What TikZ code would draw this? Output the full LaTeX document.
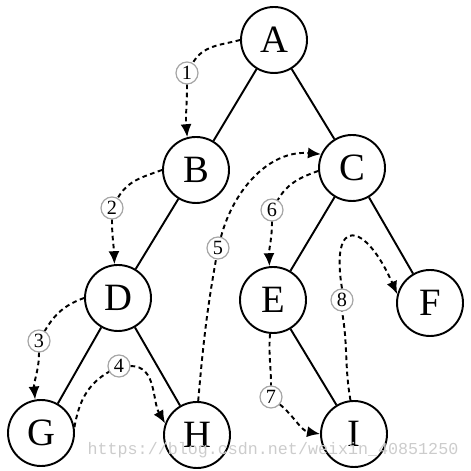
\documentclass[tikz,border=0pt]{standalone}
\usepackage{fontspec}
\setmainfont{Liberation Serif}
\setmonofont{Liberation Mono}
\usepackage{xcolor}
\usetikzlibrary{arrows.meta}

\begin{document}
\begin{tikzpicture}[
  tnode/.style={circle, draw, line width=1.1pt, minimum size=1.32cm, inner sep=0pt, font=\fontsize{22}{22}\selectfont},
  num/.style={circle, draw=gray!70, line width=0.7pt, minimum size=0.44cm, inner sep=0pt, font=\fontsize{11.5}{11.5}\selectfont},
  branch/.style={line width=1.1pt},
  trav/.style={-{Latex[length=2.6mm,width=2.2mm]}, line width=1.1pt, dash pattern=on 2.6pt off 2pt}
]
\useasboundingbox (0,0) rectangle (9.4,9.42);

% tree
\node[tnode] (A) at (5.48,8.62) {A};
\node[tnode] (B) at (3.92,6.02) {B};
\node[tnode] (C) at (7.04,6.06) {C};
\node[tnode] (D) at (2.36,3.46) {D};
\node[tnode] (E) at (5.46,3.42) {E};
\node[tnode] (F) at (8.60,3.36) {F};
\node[tnode] (G) at (0.82,0.76) {G};
\node[tnode] (H) at (3.94,0.72) {H};
\node[tnode] (I) at (7.08,0.74) {I};

\draw[branch] (A) -- (B);
\draw[branch] (A) -- (C);
\draw[branch] (B) -- (D);
\draw[branch] (D) -- (G);
\draw[branch] (D) -- (H);
\draw[branch] (C) -- (E);
\draw[branch] (C) -- (F);
\draw[branch] (E) -- (I);

% step numbers
\node[num] (n1) at (3.74,7.96) {1};
\node[num] (n2) at (2.24,5.26) {2};
\node[num] (n3) at (0.78,2.60) {3};
\node[num] (n4) at (2.38,2.10) {4};
\node[num] (n5) at (4.36,4.46) {5};
\node[num] (n6) at (5.44,5.22) {6};
\node[num] (n7) at (5.42,1.48) {7};
\node[num] (n8) at (6.84,3.42) {8};

% traversal
\draw[trav] (A.180) to[out=195, in=60] (n1) to[out=-90, in=95] (B.105);
\draw[trav] (B.180) to[out=200, in=60] (n2) to[out=-90, in=92] (D.96);
\draw[trav] (D.180) to[out=200, in=60] (n3) to[out=-90, in=95] (G.100);
\draw[trav] (G.10) to[out=80, in=210] (n4) to[out=0, in=120] (H.160);
\draw[trav] (H.88) to[out=85, in=-100] (n5) to[out=75, in=175] (C.156);
\draw[trav] (C.185) to[out=200, in=60] (n6) to[out=-90, in=92] (E.96);
\draw[trav] (E.-95) to[out=-95, in=90] (n7) to[out=-40, in=170] (I.180);
\draw[trav] (I.96) to[out=100, in=-80] (n8.south) (n8.north) .. controls (6.6,5.1) and (7.3,5.0) .. (F.165);

\node[font=\ttfamily\fontsize{9.5}{10}\selectfont, text=gray!40] (mark) at (5.46,0.42) {https://blog.csdn.net/weixin\_40851250};
\end{tikzpicture}
\end{document}
